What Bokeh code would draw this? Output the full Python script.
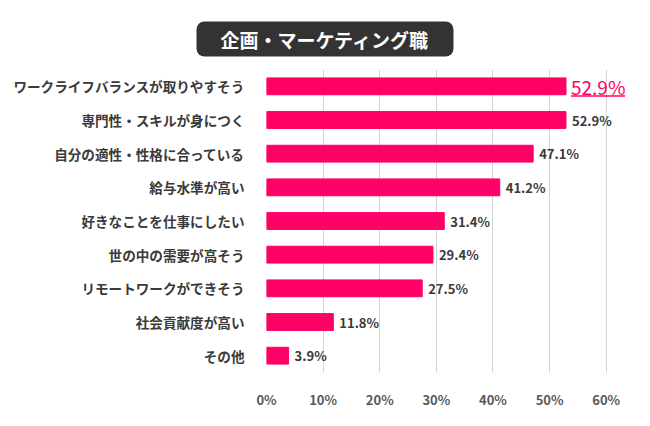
from bokeh.plotting import figure
from bokeh.models import ColumnDataSource, FactorRange, FixedTicker, CustomJSTickFormatter
from bokeh.transform import dodge
from bokeh.core.properties import value
from bokeh.embed import file_html
from bokeh.resources import INLINE

title_text = "企画・マーケティング職"
categories = ["ワークライフバランスが取りやすそう", "専門性・スキルが身につく", "自分の適性・性格に合っている",
              "給与水準が高い", "好きなことを仕事にしたい", "世の中の需要が高そう",
              "リモートワークができそう", "社会貢献度が高い", "その他"]
percents = [52.9, 52.9, 47.1, 41.2, 31.4, 29.4, 27.5, 11.8, 3.9]
x_ticks = [0, 10, 20, 30, 40, 50, 60]

FONT = "Noto Sans CJK JP"
PINK = "#ff0066"
DARK = "#3a3a3a"

labels = ["%.1f%%" % v for v in percents]
src = ColumnDataSource(dict(cat=categories, pct=percents, label=labels))
# the first row gets the big pink label, the rest get the normal one
rest = ColumnDataSource(dict(cat=categories[1:], pct=percents[1:], label=labels[1:]))
top = ColumnDataSource(dict(cat=categories[:1], pct=percents[:1], label=labels[:1]))

px_per_unit = 368 / 65.0
top_ul = ColumnDataSource(dict(cat=categories[:1],
                               x0=[percents[0] + 5 / px_per_unit],
                               x1=[percents[0] + 59 / px_per_unit]))

p = figure(width=648, height=424, y_range=FactorRange(factors=list(reversed(categories))),
           x_range=(0, 65), output_backend="svg", toolbar_location=None,
           min_border_left=266, min_border_right=14, min_border_top=69, min_border_bottom=52)
p.outline_line_color = None
p.background_fill_color = "white"

p.hbar(y="cat", right="pct", height=0.5, left=0, source=src, color=PINK)

p.text(x="pct", y="cat", text="label", source=rest, x_offset=6, text_baseline="middle",
       text_font=value(FONT), text_font_style="bold", text_font_size="13px", text_color=DARK)
p.text(x="pct", y="cat", text="label", source=top, x_offset=5, text_baseline="middle",
       text_font=value(FONT), text_font_size="19px", text_color=PINK)
p.segment(x0="x0", x1="x1", y0=dodge("cat", -0.29, range=p.y_range),
          y1=dodge("cat", -0.29, range=p.y_range), source=top_ul, line_color=PINK, line_width=1.5)

# axes
p.xaxis.ticker = FixedTicker(ticks=x_ticks)
p.xaxis.formatter = CustomJSTickFormatter(code="return tick + '%'")
p.xaxis.axis_line_color = None
p.xaxis.major_tick_line_color = None
p.xaxis.minor_tick_line_color = None
p.xaxis.major_label_standoff = 11
p.xaxis.major_label_text_font = FONT
p.xaxis.major_label_text_font_style = "bold"
p.xaxis.major_label_text_font_size = "13px"
p.xaxis.major_label_text_color = "#595959"

p.yaxis.axis_line_color = None
p.yaxis.major_tick_line_color = None
p.yaxis.major_label_standoff = 16
p.yaxis.major_label_text_font = FONT
p.yaxis.major_label_text_font_style = "bold"
p.yaxis.major_label_text_font_size = "13.6px"
p.yaxis.major_label_text_color = DARK

p.xgrid.ticker = FixedTicker(ticks=x_ticks)
p.xgrid.grid_line_color = "#d4d4d4"
p.ygrid.grid_line_color = None

# dark rounded title box above the chart
p.title.text = title_text
p.title.align = "left"
p.title.offset = -70
p.title.standoff = 26
p.title.text_font = FONT
p.title.text_font_style = "bold"
p.title.text_font_size = "19px"
p.title.text_color = "white"
p.title.background_fill_color = "#333333"
p.title.padding = dict(left=24, right=24, top=4, bottom=4)
p.title.border_radius = 8

open("out.html", "w").write(file_html(p, INLINE))
